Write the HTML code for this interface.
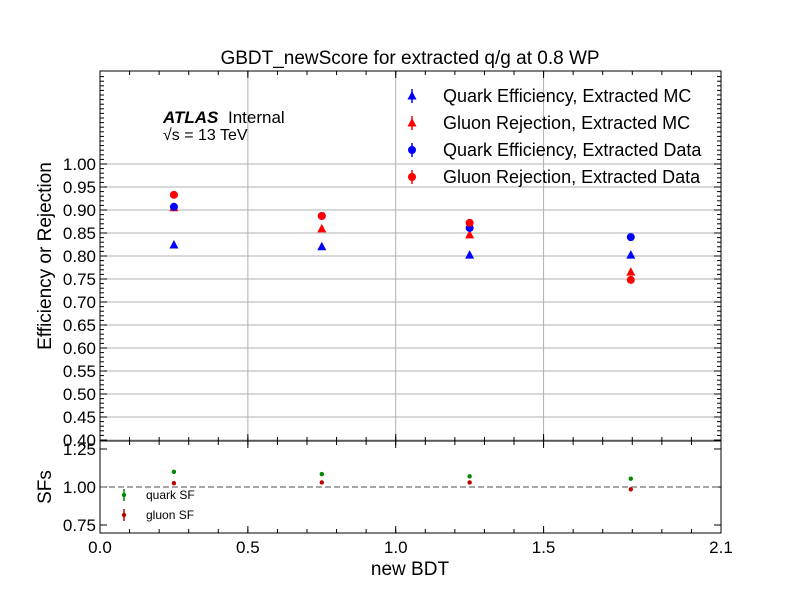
<!DOCTYPE html>
<html><head><meta charset="utf-8"><style>
body{margin:0;background:#fff;}
svg text{font-family:"Liberation Sans",sans-serif;}
</style></head><body>
<svg id="c" width="799" height="599" xmlns="http://www.w3.org/2000/svg">
<rect width="799" height="599" fill="#fff"/>
<text x="410" y="64" font-size="19" text-anchor="middle">GBDT_newScore for extracted q/g at 0.8 WP</text>
<g id="grid"></g><g id="ticks"></g><g id="marks"></g>
<rect x="100" y="71" width="621" height="370" fill="none" stroke="#000" stroke-width="1"/>
<rect x="100" y="441" width="621" height="92" fill="none" stroke="#000" stroke-width="1"/>
<text x="163" y="123" font-size="17" font-weight="bold" font-style="italic">ATLAS</text>
<text x="228" y="123" font-size="17">Internal</text>
<text x="163" y="140" font-size="16">√s = 13 TeV</text>
<text x="51" y="256" font-size="19" text-anchor="middle" transform="rotate(-90 51 256)">Efficiency or Rejection</text>
<text x="51" y="487" font-size="19" text-anchor="middle" transform="rotate(-90 51 487)">SFs</text>
<text x="410" y="575" font-size="19" text-anchor="middle">new BDT</text>
<g id="legend"></g>
</svg>
<script>
const xs=[0.25,0.75,1.25,1.795];
const quarkEffMC=[0.824,0.820,0.802,0.802];
const gluonRejMC=[0.905,0.859,0.846,0.765];
const quarkEffData=[0.907,0.887,0.861,0.841];
const gluonRejData=[0.933,0.887,0.872,0.748];
const quarkSF=[1.10,1.085,1.07,1.055];
const gluonSF=[1.025,1.03,1.03,0.985];
const yTicks=["0.40","0.45","0.50","0.55","0.60","0.65","0.70","0.75","0.80","0.85","0.90","0.95","1.00"];
const sfTicks=["0.75","1.00","1.25"];
const xTicks=["0.0","0.5","1.0","1.5","2.1"];
const NS="http://www.w3.org/2000/svg";
const X=v=>100+v*621/2.1;
const Y=v=>164+(1-v)*460;
const S=v=>487-(v-1)*152;
function mk(t,a,p){const e=document.createElementNS(NS,t);for(const k in a)e.setAttribute(k,a[k]);document.getElementById(p).appendChild(e);return e;}
yTicks.forEach(t=>{const v=+t,y=Y(v);
 const g=mk('line',{x1:100,x2:721,y1:y,y2:y,stroke:'#b0b0b0','stroke-width':1},'grid');
 
 
 mk('line',{x1:100,x2:107,y1:y,y2:y,stroke:'#000'},'ticks');mk('line',{x1:714,x2:721,y1:y,y2:y,stroke:'#000'},'ticks');
 const l=mk('text',{x:96,y:y+6,'font-size':17,'text-anchor':'end'},'ticks');l.textContent=t;
 
 });
for(let v=0.41;v<1.2;v+=0.01){const y=Y(v);mk('line',{x1:100,x2:104,y1:y,y2:y,stroke:'#000'},'ticks');mk('line',{x1:717,x2:721,y1:y,y2:y,stroke:'#000'},'ticks');}
sfTicks.forEach(t=>{const y=S(+t);mk('line',{x1:100,x2:107,y1:y,y2:y,stroke:'#000'},'ticks');mk('line',{x1:714,x2:721,y1:y,y2:y,stroke:'#000'},'ticks');
 const l=mk('text',{x:96,y:y+6,'font-size':17,'text-anchor':'end'},'ticks');l.textContent=t;
 
 });
xTicks.forEach(t=>{const x=X(+t);
 if(t!=="0.0"&&t!=="2.1"){const g=mk('line',{x1:x,x2:x,y1:71,y2:441,stroke:'#b0b0b0'},'grid');
 
 }
 [[71,78],[434,441],[441,448],[526,533]].forEach(([a,b])=>mk('line',{x1:x,x2:x,y1:a,y2:b,stroke:'#000'},'ticks'));
 const l=mk('text',{x:x,y:553,'font-size':17,'text-anchor':'middle'},'ticks');l.textContent=t;
 
 });
for(let v=0.1;v<2.1;v+=0.1){const x=X(v);[[71,75],[437,441],[441,445],[529,533]].forEach(([a,b])=>mk('line',{x1:x,x2:x,y1:a,y2:b,stroke:'#000'},'ticks'));}
const ref=mk('line',{x1:100,x2:721,y1:S(1),y2:S(1),stroke:'#888','stroke-dasharray':'6,3','stroke-width':1.5},'marks');


function tri(x,y,c,p){return mk('polygon',{points:`${x},${y-5} ${x-4.5},${y+3.5} ${x+4.5},${y+3.5}`,fill:c},p);}
function circ(x,y,r,c,p){return mk('circle',{cx:x,cy:y,r:r,fill:c},p);}
xs.forEach((x,i)=>{
 let e=tri(X(x),Y(gluonRejMC[i]),'#f00','marks');
 e=tri(X(x),Y(quarkEffMC[i]),'#00f','marks');
 e=circ(X(x),Y(quarkEffData[i]),4,'#00f','marks');
 e=circ(X(x),Y(gluonRejData[i]),4,'#f00','marks');
 e=circ(X(x),S(quarkSF[i]),2.2,'#080','marks');
 e=circ(X(x),S(gluonSF[i]),2.2,'#b00','marks');
});
const leg=[["Quark Efficiency, Extracted MC","#00f","t",96],["Gluon Rejection, Extracted MC","#f00","t",123],["Quark Efficiency, Extracted Data","#00f","c",150],["Gluon Rejection, Extracted Data","#f00","c",177]];
leg.forEach(([t,c,m,y])=>{const g=mk('g',{},'legend');
 const x=412;
 const ln=document.createElementNS(NS,'line');[['x1',x],['x2',x],['y1',y-7],['y2',y+7],['stroke',c],['stroke-width',1.5]].forEach(([k,v])=>ln.setAttribute(k,v));g.appendChild(ln);
 if(m==='t')g.appendChild(tri(x,y,c,'legend'));else g.appendChild(circ(x,y,4,c,'legend'));
 const tx=document.createElementNS(NS,'text');tx.setAttribute('x',443);tx.setAttribute('y',y+6);tx.setAttribute('font-size',18);tx.textContent=t;g.appendChild(tx);});
[["quark SF","#080",495],["gluon SF","#b00",515]].forEach(([t,c,y])=>{const g=mk('g',{},'legend');
 const ln=document.createElementNS(NS,'line');[['x1',124],['x2',124],['y1',y-6],['y2',y+6],['stroke',c],['stroke-width',1.5]].forEach(([k,v])=>ln.setAttribute(k,v));g.appendChild(ln);
 g.appendChild(circ(124,y,2.2,c,'legend'));
 const tx=document.createElementNS(NS,'text');tx.setAttribute('x',146);tx.setAttribute('y',y+4);tx.setAttribute('font-size',12);tx.textContent=t;g.appendChild(tx);});
</script>
</body></html>
